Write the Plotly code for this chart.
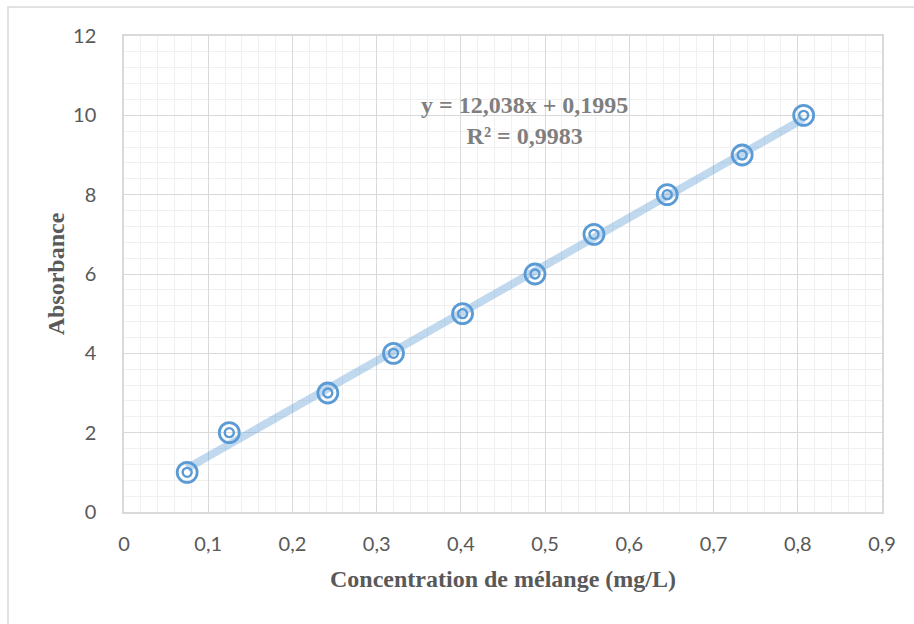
import plotly.graph_objects as go

# Calibration data: concentration of the mixture vs absorbance
concentration = [0.075, 0.125, 0.242, 0.320, 0.402, 0.488, 0.558, 0.645, 0.734, 0.807]
absorbance = [1, 2, 3, 4, 5, 6, 7, 8, 9, 10]

# Linear fit parameters reported on the chart
slope = 12.038
intercept = 0.1995
r_squared = 0.9983

x_ticks = [0, 0.1, 0.2, 0.3, 0.4, 0.5, 0.6, 0.7, 0.8, 0.9]
x_tick_labels = ["0", "0,1", "0,2", "0,3", "0,4", "0,5", "0,6", "0,7", "0,8", "0,9"]
y_ticks = [0, 2, 4, 6, 8, 10, 12]
y_tick_labels = ["0", "2", "4", "6", "8", "10", "12"]

W, H = 914, 624
ML, MR, MT, MB = 124, 32, 36, 112
plot_w = W - ML - MR
plot_h = H - MT - MB

blue = "#5B9BD5"
trend_x = [min(concentration), max(concentration)]
trend_y = [slope * v + intercept for v in trend_x]

fig = go.Figure()

# Trendline
fig.add_trace(go.Scatter(
    x=trend_x, y=trend_y, mode="lines",
    line=dict(color="rgba(91,155,213,0.38)", width=8),
    hoverinfo="skip", showlegend=False,
))
# Outer rings
fig.add_trace(go.Scatter(
    x=concentration, y=absorbance, mode="markers",
    marker=dict(symbol="circle-open", size=20, color=blue, line=dict(color=blue, width=2.8)),
    showlegend=False,
))
# Inner rings
fig.add_trace(go.Scatter(
    x=concentration, y=absorbance, mode="markers",
    marker=dict(symbol="circle-open", size=9, color=blue, line=dict(color=blue, width=2.4)),
    showlegend=False, hoverinfo="skip",
))

eq_text = ("y = " + f"{slope:.3f}".replace(".", ",") + "x + " + f"{intercept:.4f}".replace(".", ",")
           + "<br>R² = " + f"{r_squared:.4f}".replace(".", ","))
fig.add_annotation(
    x=0.476, y=9.87, xref="x", yref="y", text=eq_text, showarrow=False,
    font=dict(family="Liberation Serif", size=24, color="#7F7F7F", weight="bold"),
    align="center",
)

tick_font = dict(family="Lato", size=20, color="#595959")
title_font = dict(family="Liberation Serif", size=24, color="#595959", weight="bold")

fig.update_xaxes(
    range=[0, 0.9], tickvals=x_ticks, ticktext=x_tick_labels,
    showgrid=True, gridcolor="#D9D9D9", gridwidth=1,
    minor=dict(dtick=0.02, showgrid=True, gridcolor="#F0F0F0", gridwidth=1),
    showline=True, linecolor="#D9D9D9", linewidth=1.5, mirror=True,
    zeroline=False, ticks="", ticklabelstandoff=13,
    tickfont=tick_font,
    title=dict(text="Concentration de mélange (mg/L)", font=title_font, standoff=16),
)
fig.update_yaxes(
    range=[0, 12], tickvals=y_ticks, ticktext=y_tick_labels,
    showgrid=True, gridcolor="#D9D9D9", gridwidth=1,
    minor=dict(dtick=0.4, showgrid=True, gridcolor="#F0F0F0", gridwidth=1),
    showline=True, linecolor="#D9D9D9", linewidth=1.5, mirror=True,
    zeroline=False, ticks="", ticklabelstandoff=22,
    tickfont=tick_font,
    title=dict(text="Absorbance", font=title_font, standoff=2),
)

# Chart-area frame (top and left edges visible inside the page)
fig.add_shape(
    type="rect", xref="paper", yref="paper",
    x0=(8 - ML) / plot_w, x1=1.2,
    y0=-0.4, y1=(H - MB - 7) / plot_h,
    line=dict(color="#D9D9D9", width=1.5), layer="below",
)

fig.update_layout(
    width=W, height=H,
    margin=dict(l=ML, r=MR, t=MT, b=MB),
    paper_bgcolor="white", plot_bgcolor="white",
    showlegend=False,
)

fig.write_html("out.html")
